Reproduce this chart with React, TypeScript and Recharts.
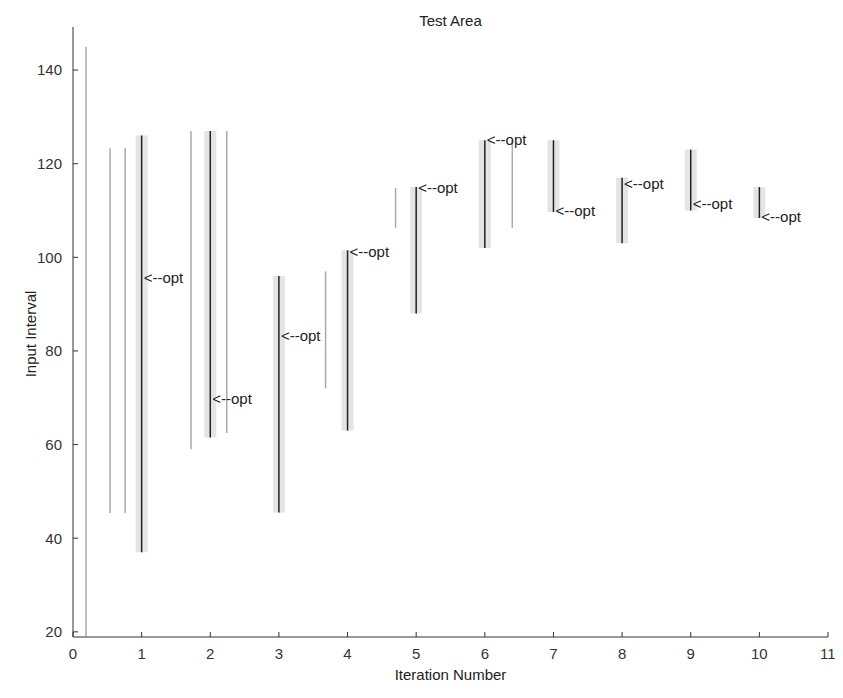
import { ComposedChart, XAxis, YAxis, ReferenceLine, Scatter } from 'recharts';

// iteration-wise interval (dark) and the optimum found
const iterations = [1, 2, 3, 4, 5, 6, 7, 8, 9, 10];
const intervalLow = [37, 61.5, 45.5, 63, 88, 102, 109.7, 103, 110, 108.4];
const intervalHigh = [126, 127, 96, 101.5, 115, 125, 125, 117, 123, 115];
const optValue = [95.4, 69.5, 83, 101, 114.6, 124.8, 109.7, 115.5, 111.2, 108.4];

// lighter test-area lines
const testX = [0.19, 0.54, 0.76, 1.72, 2.24, 3.68, 4.7, 6.4];
const testLow = [19, 45.4, 45.4, 59, 62.5, 72, 106.3, 106.3];
const testHigh = [145, 123.3, 123.3, 127, 127, 97, 114.8, 125];

const xTicks = [0, 1, 2, 3, 4, 5, 6, 7, 8, 9, 10, 11];
const yTicks = [20, 40, 60, 80, 100, 120, 140];

const font = '"Liberation Sans", Arial, sans-serif';

const optPoints = iterations.map((x, i) => ({ x, y: optValue[i] }));

const OptLabel = (props: any) => (
    <text
        x={props.cx + 2}
        y={props.cy}
        dominantBaseline="middle"
        fontSize={15}
        fontFamily={font}
        fill="#222"
    >
        {'<--opt'}
    </text>
);

export default function App() {
    return (
        <div style={{ position: 'relative', width: 827, height: 682, fontFamily: font }}>
            <ComposedChart
                width={827}
                height={682}
                data={optPoints}
                margin={{ top: 19, right: 7, left: 0, bottom: 23 }}
            >
                <XAxis
                    dataKey="x"
                    type="number"
                    domain={[0, 11]}
                    ticks={xTicks}
                    allowDataOverflow
                    height={30}
                    stroke="#333"
                    tickSize={-5}
                    tickMargin={16}
                    tick={{ fill: '#333', fontSize: 15, fontFamily: font }}
                />
                <YAxis
                    type="number"
                    domain={[18.9, 149.2]}
                    ticks={yTicks}
                    allowDataOverflow
                    width={65}
                    stroke="#333"
                    tickSize={-5}
                    tickMargin={16}
                    tick={{ fill: '#333', fontSize: 15, fontFamily: font }}
                />
                {testX.map((x, i) => (
                    <ReferenceLine
                        key={'t' + i}
                        segment={[{ x, y: testLow[i] }, { x, y: testHigh[i] }]}
                        stroke="#aaa"
                        strokeWidth={1.5}
                    />
                ))}
                {iterations.map((x, i) => (
                    <ReferenceLine
                        key={'h' + i}
                        segment={[{ x, y: intervalLow[i] }, { x, y: intervalHigh[i] }]}
                        stroke="#e4e4e4"
                        strokeWidth={12}
                    />
                ))}
                {iterations.map((x, i) => (
                    <ReferenceLine
                        key={'d' + i}
                        segment={[{ x, y: intervalLow[i] }, { x, y: intervalHigh[i] }]}
                        stroke="#222"
                        strokeWidth={1.5}
                    />
                ))}
                <Scatter dataKey="y" shape={OptLabel} isAnimationActive={false} />
            </ComposedChart>
            <div style={{ position: 'absolute', left: 65, width: 755, top: 4, textAlign: 'center', fontSize: 15, color: '#222' }}>
                Test Area
            </div>
            <div style={{ position: 'absolute', left: 65, width: 755, top: 658, textAlign: 'center', fontSize: 15, color: '#222' }}>
                Iteration Number
            </div>
            <div
                style={{
                    position: 'absolute',
                    left: 22,
                    top: 326,
                    transform: 'translate(-50%, -50%) rotate(-90deg)',
                    whiteSpace: 'nowrap',
                    fontSize: 15,
                    color: '#222',
                }}
            >
                Input Interval
            </div>
        </div>
    );
}
